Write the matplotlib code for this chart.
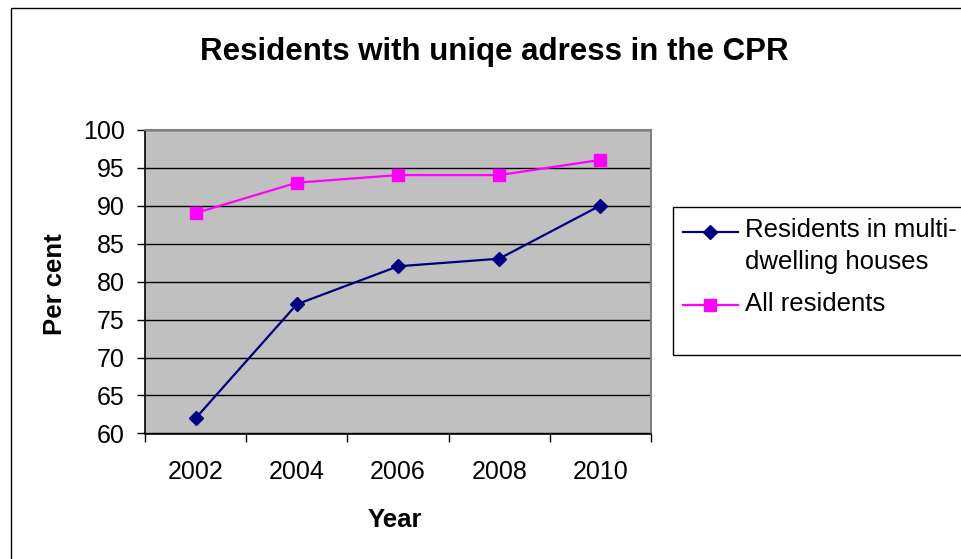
import matplotlib
matplotlib.use("Agg")
import matplotlib.pyplot as plt
from matplotlib.patches import Rectangle
from matplotlib.lines import Line2D

years = ["2002", "2004", "2006", "2008", "2010"]
multi_dwelling = [62, 77, 82, 83, 90]
all_residents = [89, 93, 94, 94, 96]
series_labels = ["Residents in multi-\ndwelling houses", "All residents"]
title = "Residents with uniqe adress in the CPR"
y_ticks = [60, 65, 70, 75, 80, 85, 90, 95, 100]

plt.rcParams['font.family'] = ['Liberation Sans', 'DejaVu Sans']

W, H = 962, 559
fig = plt.figure(figsize=(W / 100, H / 100), dpi=100)

def fx(px):
    return px / W

def fy(py):
    return 1 - py / H

NAVY = '#000080'
MAGENTA = '#FF00FF'
D_MS = 7.5
S_MS = 8.0

# outer chart border (cut off at right and bottom)
fig.add_artist(Rectangle((fx(11), fy(575)), fx(980) - fx(11), fy(8) - fy(575),
                         transform=fig.transFigure, fill=False, edgecolor='black', lw=1.0))

left, right, top, bottom = 145, 651, 129.5, 433.5
ax = fig.add_axes([fx(left), fy(bottom), fx(right) - fx(left), fy(top) - fy(bottom)])
ax.set_facecolor('#C0C0C0')

x = list(range(len(years)))
ax.plot(x, multi_dwelling, color=NAVY, lw=1.6, marker='D', ms=D_MS,
        markerfacecolor=NAVY, markeredgecolor=NAVY, zorder=3)
ax.plot(x, all_residents, color=MAGENTA, lw=1.6, marker='s', ms=S_MS,
        markerfacecolor=MAGENTA, markeredgecolor=MAGENTA, zorder=3)

ax.set_xlim(-0.5, len(years) - 0.5)
ax.set_ylim(60, 100)
ax.set_yticks(y_ticks)
ax.set_yticklabels([str(v) for v in y_ticks], fontsize=18)
ax.yaxis.grid(True, color='black', lw=1.0)
ax.set_axisbelow(True)

ax.set_xticks([i - 0.5 for i in range(len(years) + 1)])
ax.set_xticklabels([''] * (len(years) + 1))
ax.set_xticks(x, minor=True)
ax.set_xticklabels(years, minor=True, fontsize=18)
ax.tick_params(axis='x', which='minor', length=0, pad=19)
ax.tick_params(axis='x', which='major', length=5.5, width=1, color='black', direction='out')
ax.tick_params(axis='y', length=6, width=1, direction='out', pad=8.4)

for s in ['top', 'right']:
    ax.spines[s].set_color('#808080')
    ax.spines[s].set_linewidth(1.5)
for s in ['left', 'bottom']:
    ax.spines[s].set_color('black')
    ax.spines[s].set_linewidth(1.2)

fig.text(fx(494), fy(60), title, ha='center', va='baseline', fontsize=22.5, fontweight='bold')
fig.text(fx(395), fy(526.7), "Year", ha='center', va='baseline', fontsize=18.5, fontweight='bold')
fig.text(fx(54.5), fy(284), "Per cent", ha='center', va='center', fontsize=18.5,
         fontweight='bold', rotation=90)

# legend box
fig.add_artist(Rectangle((fx(673), fy(355)), fx(990) - fx(673), fy(207) - fy(355),
                         transform=fig.transFigure, facecolor='white', edgecolor='black', lw=1.0))
# legend keys
fig.add_artist(Line2D([fx(683), fx(738)], [fy(231.7), fy(231.7)], color=NAVY, lw=1.6,
                      transform=fig.transFigure))
fig.add_artist(Line2D([fx(710.5)], [fy(231.7)], color=NAVY, marker='D', ms=D_MS,
                      markerfacecolor=NAVY, markeredgecolor=NAVY, transform=fig.transFigure))
fig.add_artist(Line2D([fx(683), fx(738)], [fy(305), fy(305)], color=MAGENTA, lw=1.6,
                      transform=fig.transFigure))
fig.add_artist(Line2D([fx(710.5)], [fy(305)], color=MAGENTA, marker='s', ms=S_MS,
                      markerfacecolor=MAGENTA, markeredgecolor=MAGENTA, transform=fig.transFigure))
# legend labels
lab1_lines = series_labels[0].split("\n")
fig.text(fx(745), fy(236.7), lab1_lines[0], ha='left', va='baseline', fontsize=18.5)
fig.text(fx(745), fy(269.3), lab1_lines[1], ha='left', va='baseline', fontsize=18.5)
fig.text(fx(745), fy(310.7), series_labels[1], ha='left', va='baseline', fontsize=18.5)

fig.savefig("out.png", dpi=100)
